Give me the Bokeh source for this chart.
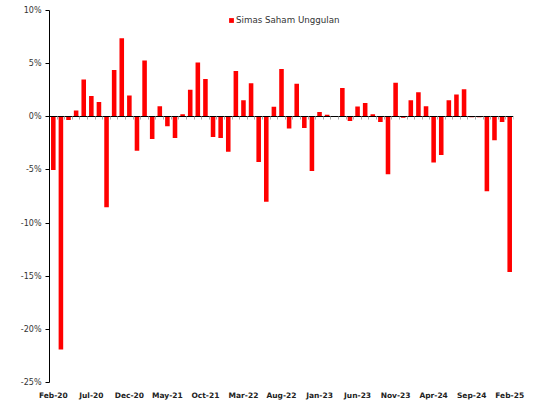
from bokeh.plotting import figure
from bokeh.models import (ColumnDataSource, FixedTicker, LinearAxis, PrintfTickFormatter,
                          Legend, LegendItem, Range1d, CustomJSTickFormatter, Grid)
from bokeh.embed import file_html
from bokeh.resources import INLINE

series_name = "Simas Saham Unggulan"

# Monthly returns (%) Feb-20 .. Feb-25
returns = [-5.0, -21.9, -0.3, 0.6, 3.5, 1.95, 1.4, -8.5, 4.4, 7.4,
           2.0, -3.2, 5.3, -2.1, 1.0, -0.9, -2.0, 0.25, 2.55, 5.1,
           3.55, -1.9, -2.0, -3.3, 4.3, 1.55, 3.15, -4.25, -8.0, 0.95,
           4.5, -1.1, 3.1, -1.05, -5.1, 0.45, 0.2, 0.05, 2.7, -0.4,
           0.97, 1.3, 0.25, -0.5, -5.4, 3.2, -0.1, 1.55, 2.3, 1.0,
           -4.3, -3.6, 1.55, 2.1, 2.6, -0.05, -0.05, -7.0, -2.2, -0.5,
           -14.6]

tick_labels = ["Feb-20", "Jul-20", "Dec-20", "May-21", "Oct-21", "Mar-22", "Aug-22",
               "Jan-23", "Jun-23", "Nov-23", "Apr-24", "Sep-24", "Feb-25"]
tick_step = 5
y_ticks = [-25, -20, -15, -10, -5, 0, 5, 10]

x = list(range(len(returns)))
src = ColumnDataSource(dict(x=x, top=returns))

p = figure(width=534, height=402, output_backend="svg", toolbar_location=None,
           x_range=Range1d(-0.5, len(returns) - 0.5),
           y_range=Range1d(min(y_ticks), max(y_ticks)),
           min_border_left=49, min_border_right=21, min_border_top=10, min_border_bottom=20,
           x_axis_location=None, y_axis_location=None)
p.outline_line_color = None
p.background_fill_color = "white"
p.border_fill_color = "white"
for g in list(p.center):
    if isinstance(g, Grid):
        g.visible = False

r = p.vbar(x="x", top="top", bottom=0, width=0.6, fill_color="#FF0000",
           line_color=None, source=src)

FONT = "DejaVu Sans"

# Y axis
yax = LinearAxis(ticker=FixedTicker(ticks=y_ticks), formatter=PrintfTickFormatter(format="%d%%"))
yax.axis_line_color = "black"
yax.axis_line_width = 1
yax.major_tick_line_color = "black"
yax.major_tick_out = 4
yax.major_tick_in = 0
yax.minor_tick_line_color = None
yax.major_label_text_font = FONT
yax.major_label_text_font_size = "8px"
yax.major_label_text_color = "#333333"
yax.major_label_standoff = 4
p.add_layout(yax, "left")

# Zero line axis with grey boundary ticks
zax = LinearAxis(fixed_location=0, ticker=FixedTicker(ticks=[i + 0.5 for i in x]),
                 formatter=CustomJSTickFormatter(code="return ''"))
zax.axis_line_color = "black"
zax.axis_line_width = 1
zax.major_tick_line_color = "#AAAAAA"
zax.major_tick_out = 3
zax.major_tick_in = 0
zax.minor_tick_line_color = None
p.add_layout(zax, "below")

# Bottom label axis
label_ticks = [i * tick_step for i in range(len(tick_labels))]
xax = LinearAxis(ticker=FixedTicker(ticks=label_ticks),
                 major_label_overrides={t: l for t, l in zip(label_ticks, tick_labels)})
xax.axis_line_color = None
xax.major_tick_line_color = None
xax.minor_tick_line_color = None
xax.major_label_text_font = FONT
xax.major_label_text_font_style = "bold"
xax.major_label_text_font_size = "7.5px"
xax.major_label_text_color = "#222222"
xax.major_label_standoff = 2
p.add_layout(xax, "below")

legend = Legend(items=[LegendItem(label=series_name, renderers=[r])],
                location=(179, 357), orientation="horizontal",
                border_line_color=None, background_fill_alpha=0,
                label_text_font=FONT, label_text_font_size="8.7px",
                label_text_color="#333333",
                glyph_width=6, glyph_height=6, padding=0, margin=0, label_standoff=2,
                label_height=10)
p.add_layout(legend, "center")

open("out.html", "w").write(file_html(p, INLINE))
